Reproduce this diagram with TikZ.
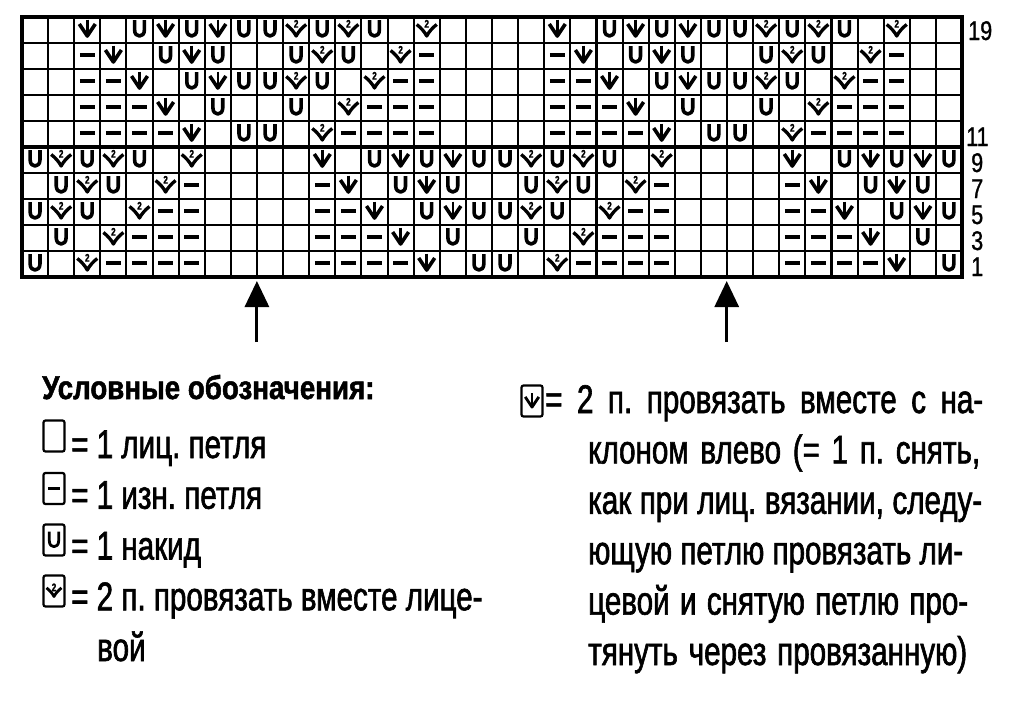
\documentclass[tikz,border=0pt]{standalone}
\usepackage{fontspec}
\setmainfont{Liberation Sans}[FakeStretch=0.74, FakeBold=1.5]
\newfontfamily\headfont{Liberation Sans}[FakeStretch=0.84, FakeBold=1.5]
\newfontfamily\numfont{Liberation Sans}[FakeStretch=0.8, FakeBold=1]
\usetikzlibrary{arrows.meta}
\frenchspacing
\tikzset{
  gridline/.style={line width=2.1pt},
  thickline/.style={line width=3.2pt},
  symline/.style={line width=3.6pt, line join=round},
  stemline/.style={line width=2.5pt},
  twolabel/.style={font=\fontsize{11}{11}\selectfont\bfseries, inner sep=0pt},
  body/.style={font=\fontsize{40}{42}\selectfont, inner sep=0pt, anchor=base west},
  head/.style={font=\headfont\bfseries\fontsize{33}{36}\selectfont, inner sep=0pt, anchor=base west},
  rownum/.style={font=\numfont\fontsize{27}{27}\selectfont, inner sep=0pt, anchor=base west},
  legbox/.style={draw, line width=2.2pt, rounded corners=2pt, minimum width=21pt, minimum height=31pt, inner sep=0pt},
  uparrow/.style={line width=3pt, -{Triangle[length=26pt,width=24pt]}},
}
\newcommand\ksE[4][]{}
\newcommand\ksU[4][]{\draw[symline,shift={(#2,#3)},#1] (-4.9,-10) -- (-4.9,0) .. controls (-4.9,8) and (4.9,8) .. (4.9,0) -- (4.9,-10);}
\newcommand\ksP[4][]{\draw[symline,shift={(#2,#3)},#1] (-7.5,-1) -- (7.5,-1);}
\newcommand\ksS[4][]{\draw[symline,shift={(#2,#3)},#1] (-8,-6) -- (0,6) -- (8,-6);
  \draw[stemline,shift={(#2,#3)},#1] (0,-10.5) -- (0,5);}
\newcommand\ksK[4][]{\draw[symline,line width=3.3pt,shift={(#2,#3)},#1] (-10,-5.5) .. controls (-6,-2.5) and (-2,2) .. (0,6) .. controls (2,2) and (6,-2.5) .. (10,-5.5)
  (0,-6.2) node[twolabel] (#4) {2};}
\newcommand\chartrow[3]{%
  \foreach \s [count=\k from 0] in #3 {%
    \pgfmathsetmacro\xx{22+(#2+\k+0.5)*26.111}%
    \pgfmathsetmacro\yy{17+(#1+0.5)*26}%
    \pgfmathtruncatemacro\cc{#2+\k+1}%
    \csname ks\s\endcsname{\xx}{\yy}{c#1-\cc}%
  }}
\begin{document}
\begin{tikzpicture}[x=1pt,y=-1pt]
\fill[white] (0,0) rectangle (1024,713);
\useasboundingbox (0,0) rectangle (1024,713);
% grid
\foreach \c in {1,...,35} \draw[gridline] ({22+\c*26.111},17) -- ({22+\c*26.111},277);
\foreach \r in {1,2,3,4,6,7,8,9} \draw[gridline] (22,{17+\r*26}) -- (962,{17+\r*26});
\draw[thickline] (22,147) -- (962,147);
\draw[thickline] (22,17) rectangle (962,277);
% symbols
\foreach \j/\la/\lb in {
 0/{U,K,U,K,U,E,K,E,E}/{E,E,S,E,U,S,U,S,U},
 1/{E,U,K,U,E,K,P,E,E}/{E,E,P,S,E,U,S,U,E},
 2/{U,K,U,E,K,P,P,E,E}/{E,E,P,P,S,E,U,S,U},
 3/{E,U,E,K,P,P,P,E,E}/{E,E,P,P,P,S,E,U,E},
 4/{U,E,K,P,P,P,P,E,E}/{E,E,P,P,P,P,S,E,U}}{
  \pgfmathtruncatemacro\lo{\j+5}
  \chartrow{\j}{0}{\lb}\chartrow{\j}{9}{\la}\chartrow{\j}{18}{\lb}\chartrow{\j}{27}{\la}
  \chartrow{\lo}{0}{\la}\chartrow{\lo}{9}{\lb}\chartrow{\lo}{18}{\la}\chartrow{\lo}{27}{\lb}
}
% row numbers
\node[rownum] (n19) at (968,40) {19};
\node[rownum] (n11) at (966,146) {11};
\node[rownum] (n9) at (971,172) {9};
\node[rownum] (n7) at (971,198) {7};
\node[rownum] (n5) at (971,224) {5};
\node[rownum] (n3) at (971,250) {3};
\node[rownum] (n1) at (971,276) {1};
% arrows
\coordinate (a1b) at (256.9,342);
\coordinate (a1t) at (256.9,281);
\coordinate (a2b) at (726.7,342);
\coordinate (a2t) at (726.7,281);
\draw[uparrow] (a1b) -- (a1t);
\draw[uparrow] (a2b) -- (a2t);
% legend left
\node[head] (hd) at (42,399) {Условные обозначения:};
\node[legbox] (lb1) at (54,436) {};
\node[body] (l1) at (71,458) {= 1 лиц. петля};
\node[legbox] (lb2) at (54,488.5) {};
\ksP[scale=0.8,line width=2.8pt]{54}{489.5}{lp}
\node[body] (l2) at (71,508.75) {= 1 изн. петля};
\node[legbox] (lb3) at (54,540) {};
\ksU[scale=0.95,line width=2.8pt]{54}{541}{lu}
\node[body] (l3) at (71,559.5) {= 1 накид};
\node[legbox] (lb4) at (54,591) {};
\ksK[scale=0.75,line width=2.8pt]{54}{592}{lk}
\node[body] (l4) at (71,610.25) {= 2 п. провязать вместе лице-};
\node[body] (l5) at (97,661) {вой};
% legend right
\node[legbox] (rb1) at (532,401) {};
\ksS[scale=0.85,line width=2.8pt]{532}{402}{rs}
\node[body] (r1) at (545,413) {\makebox[438pt][s]{= 2 п. провязать вместе с на-}};
\node[body] (r2) at (588,463.4) {\makebox[392pt][s]{клоном влево (= 1 п. снять,}};
\node[body] (r3) at (588,513.8) {\makebox[394pt][s]{как при лиц. вязании, следу-}};
\node[body] (r4) at (588,564.2) {\makebox[375pt][s]{ющую петлю провязать ли-}};
\node[body] (r5) at (588,614.6) {\makebox[380pt][s]{цевой и снятую петлю про-}};
\node[body] (r6) at (588,665) {\makebox[379pt][s]{тянуть через провязанную)}};
\end{tikzpicture}
\end{document}
